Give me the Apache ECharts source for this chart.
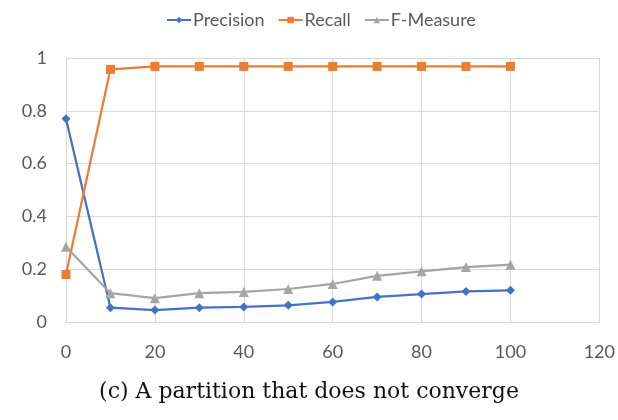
<!DOCTYPE html>
<html>
<head>
<meta charset="utf-8">
<script src="https://cdn.jsdelivr.net/npm/echarts@6/dist/echarts.min.js"></script>
<style>
  html, body { margin: 0; padding: 0; background: #fff; }
  #chart { width: 618px; height: 420px; }
</style>
</head>
<body>
<div id="chart"></div>
<script>
// Iteration steps along the x axis
const steps = [0, 10, 20, 30, 40, 50, 60, 70, 80, 90, 100];
// Metric values at each step
const precision = [0.77, 0.054, 0.045, 0.054, 0.057, 0.063, 0.076, 0.095, 0.106, 0.116, 0.12];
const recall    = [0.18, 0.957, 0.968, 0.968, 0.968, 0.968, 0.968, 0.968, 0.968, 0.968, 0.968];
const fMeasure  = [0.285, 0.109, 0.09, 0.109, 0.114, 0.125, 0.144, 0.175, 0.192, 0.208, 0.217];
const seriesNames = ['Precision', 'Recall', 'F-Measure'];
const caption = '(c) A partition that does not converge';

const pairs = vals => steps.map((x, i) => [x, vals[i]]);

const chart = echarts.init(document.getElementById('chart'));
const labelFont = { color: '#595959', fontSize: 18, fontFamily: 'Lato' };
const gridLine = { lineStyle: { color: '#d9d9d9', width: 1 } };

chart.setOption({
  animation: false,
  legend: {
    top: 6,
    left: 161,
    itemWidth: 24,
    itemHeight: 8,
    itemGap: 13,
    textStyle: { color: '#595959', fontSize: 18, fontFamily: 'Lato', padding: [0, 0, 0, -3] },
    data: seriesNames
  },
  grid: { left: 66, right: 16, top: 58, bottom: 98 },
  xAxis: {
    type: 'value',
    min: 0, max: 120, interval: 20,
    axisLine: { show: true, lineStyle: { color: '#d9d9d9' } },
    axisTick: { show: false },
    axisLabel: Object.assign({ margin: 21 }, labelFont),
    splitLine: Object.assign({ show: true }, gridLine)
  },
  yAxis: {
    type: 'value',
    min: 0, max: 1, interval: 0.2,
    axisLine: { show: false },
    axisTick: { show: false },
    axisLabel: Object.assign({ margin: 19, formatter: v => String(+v.toFixed(1)) }, labelFont),
    splitLine: Object.assign({ show: true }, gridLine)
  },
  title: {
    text: caption,
    left: 'center',
    top: 376,
    textStyle: { fontFamily: 'DejaVu Serif', fontWeight: 'normal', fontSize: 22, color: '#111' }
  },
  series: [
    {
      name: seriesNames[0], type: 'line', data: pairs(precision),
      symbol: 'diamond', symbolSize: 9,
      lineStyle: { color: '#4472C4', width: 2.25 },
      itemStyle: { color: '#4472C4' }
    },
    {
      name: seriesNames[1], type: 'line', data: pairs(recall),
      symbol: 'rect', symbolSize: 9,
      lineStyle: { color: '#ED7D31', width: 2.25 },
      itemStyle: { color: '#ED7D31' }
    },
    {
      name: seriesNames[2], type: 'line', data: pairs(fMeasure),
      symbol: 'triangle', symbolSize: 10,
      lineStyle: { color: '#A5A5A5', width: 2.25 },
      itemStyle: { color: '#A5A5A5' }
    }
  ]
});
</script>
</body>
</html>
